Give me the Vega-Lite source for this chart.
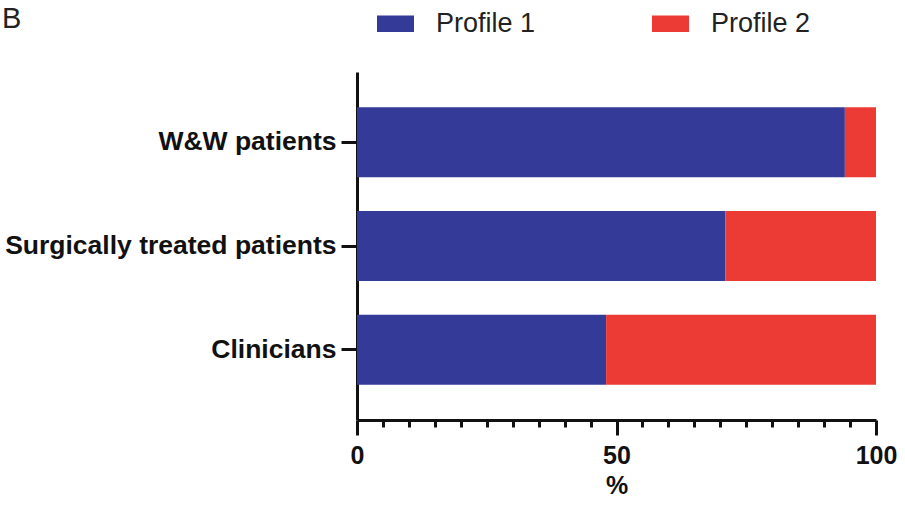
{
  "$schema": "https://vega.github.io/schema/vega-lite/v6.json",
  "width": 519,
  "height": 348,
  "autosize": "none",
  "padding": {"left": 357, "top": 72, "right": 29, "bottom": 99},
  "background": "white",
  "title": {
    "text": "B",
    "anchor": "start",
    "frame": "group",
    "dx": -355,
    "dy": 33,
    "font": "Liberation Sans",
    "fontSize": 29,
    "fontWeight": "normal",
    "color": "#222222"
  },
  "data": {
    "values": [
      {"group": "W&W patients", "profile": "Profile 1", "pct": 94},
      {"group": "W&W patients", "profile": "Profile 2", "pct": 6},
      {"group": "Surgically treated patients", "profile": "Profile 1", "pct": 71},
      {"group": "Surgically treated patients", "profile": "Profile 2", "pct": 29},
      {"group": "Clinicians", "profile": "Profile 1", "pct": 48},
      {"group": "Clinicians", "profile": "Profile 2", "pct": 52}
    ]
  },
  "mark": {"type": "bar"},
  "encoding": {
    "y": {
      "field": "group",
      "type": "nominal",
      "sort": ["W&W patients", "Surgically treated patients", "Clinicians"],
      "scale": {"paddingInner": 0.327, "paddingOuter": 0.34},
      "axis": {
        "title": null,
        "labelFont": "Liberation Sans",
        "labelFontSize": 26.5,
        "labelFontWeight": "bold",
        "labelColor": "#111111",
        "labelPadding": 5,
        "tickSize": 16,
        "tickWidth": 3,
        "tickColor": "#111111",
        "domainColor": "#111111",
        "domainWidth": 3,
        "labelLimit": 0
      }
    },
    "x": {
      "field": "pct",
      "type": "quantitative",
      "stack": "zero",
      "scale": {"domain": [0, 100], "nice": false},
      "axis": {
        "title": "%",
        "titleFont": "Liberation Sans",
        "titleFontSize": 25,
        "titleFontWeight": "bold",
        "titleColor": "#111111",
        "titlePadding": 5,
        "values": [0, 5, 10, 15, 20, 25, 30, 35, 40, 45, 50, 55, 60, 65, 70, 75, 80, 85, 90, 95, 100],
        "labelExpr": "datum.value % 50 === 0 ? datum.label : ''",
        "labelFont": "Liberation Sans",
        "labelFontSize": 25,
        "labelFontWeight": "bold",
        "labelColor": "#111111",
        "labelPadding": 8,
        "labelFlush": false,
        "labelOverlap": false,
        "tickSize": {"condition": {"test": "datum.value % 50 === 0", "value": 15}, "value": 7},
        "tickWidth": 3,
        "tickColor": "#111111",
        "domainColor": "#111111",
        "domainWidth": 3,
        "grid": false
      }
    },
    "color": {
      "field": "profile",
      "type": "nominal",
      "scale": {"domain": ["Profile 1", "Profile 2"], "range": ["#343a98", "#ec3a35"]},
      "legend": {
        "title": null,
        "orient": "none",
        "direction": "horizontal",
        "legendX": 20,
        "legendY": -67,
        "padding": 0,
        "symbolType": "M-1,-0.45H1V0.45H-1Z",
        "symbolSize": 1369,
        "symbolStrokeWidth": 0,
        "symbolOpacity": 1,
        "labelFont": "Liberation Sans",
        "labelFontSize": 27,
        "labelColor": "#222222",
        "labelOffset": 22,
        "columnPadding": 116,
        "labelLimit": 0
      }
    }
  },
  "config": {
    "view": {"stroke": null},
    "axis": {"grid": false}
  }
}
